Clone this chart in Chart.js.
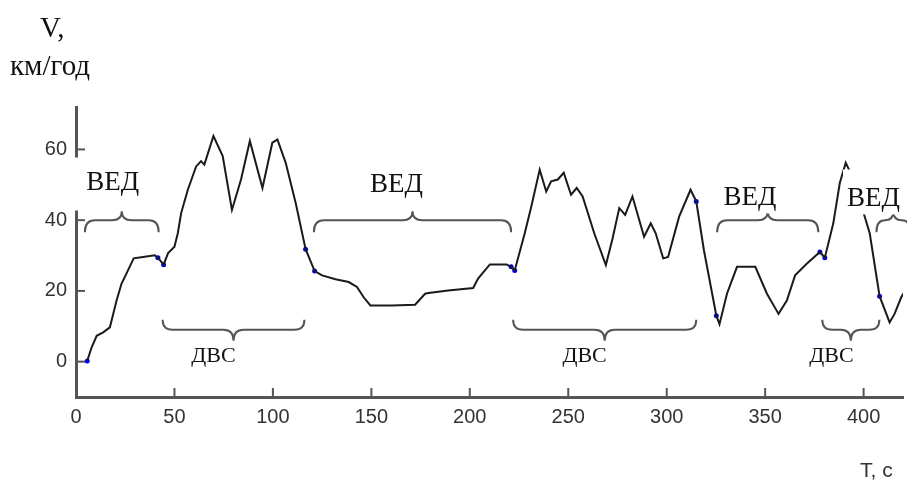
<!DOCTYPE html>
<html>
<head>
<meta charset="utf-8">
<script src="https://cdn.jsdelivr.net/npm/chart.js@4.4.1/dist/chart.umd.min.js"></script>
<style>
  body { margin: 0; background: #fff; }
  #wrap { position: relative; width: 907px; height: 480px; }
  #myChart { position: absolute; left: 0; top: 0; }
  .ttl { position: absolute; white-space: nowrap; color: #111; }
  .serif { font-family: "Liberation Serif", "Times New Roman", serif; font-size: 29px; line-height: 29px; }
  .sans { font-family: "Liberation Sans", Arial, sans-serif; font-size: 21px; line-height: 21px; color: #333; }
</style>
</head>
<body>
<div id="wrap">
  <canvas id="myChart" width="907" height="480"></canvas>
  <div class="ttl serif" style="left:40px; top:13px;">V,</div>
  <div class="ttl serif" style="left:10px; top:51px;">км/год</div>
  <div class="ttl sans" style="left:860px; top:459px;">T, с</div>
</div>
<script>
// time, s
const timeData = [5.7, 7.9, 10.5, 13.8, 17.2, 18.9, 20.6, 23.1, 25.6, 29.3, 34, 40, 41.6, 44.5, 46.7, 50, 51.7, 53.4, 56.8, 61,
  63.5, 65.2, 69.8, 74.5, 79.2, 83.8, 88.3, 94.7, 99.7, 102.3, 106.5, 111.6, 116.6, 121.2, 125, 131.8, 138.5, 142.7, 146.1, 149.5,
  160.4, 172.2, 177.3, 179, 189, 201.7, 204.2, 210.2, 218.6, 221, 222.8, 227.9, 231.2, 235.5, 238.8, 241.3, 244.7, 247.7, 251.4, 254.3,
  257.3, 263.2, 269.1, 272.5, 275.9, 278.9, 282.6, 288.5, 291.9, 294.4, 298.2, 300.7, 306.3, 312.1, 315, 318.9, 325.2, 326.8, 330.6, 335.7,
  345, 350.9, 356.8, 361, 365.2, 371.1, 377.8, 380.3, 384.6, 387.9, 390.9, 393, 399.8, 403.1, 408.1, 413.2, 415.7, 419.1, 421];
// speed, km/h
const speedData = [0.2, 4, 7.3, 8.3, 9.7, 13.5, 17.3, 22, 24.9, 29.2, 29.6, 30.1, 29.4, 27.4, 30.6, 32.5, 36.3, 42, 48.6, 55.2,
  56.7, 55.7, 63.8, 58.1, 42.9, 51.5, 62.4, 49.1, 61.9, 62.8, 56.2, 44.8, 31.8, 25.6, 24.4, 23.3, 22.5, 21.1, 18.2, 15.9,
  15.9, 16.1, 19.2, 19.4, 20.1, 20.8, 23.5, 27.5, 27.5, 26.8, 25.8, 36.3, 43.8, 54.3, 48.1, 51, 51.5, 53.4, 47.2, 49.1,
  46.7, 36.3, 27.3, 34.8, 43.4, 41.5, 46.7, 35.3, 39.1, 36.3, 29.2, 29.6, 41, 48.6, 45.3, 31.5, 13, 10.6, 19.2, 26.8,
  26.8, 19.2, 13.5, 17.3, 24.4, 27.7, 31, 29.4, 39.1, 50.5, 56.2, 53.8, 42.4, 36.3, 18.5, 11.1, 13.5, 18.2, 20];
// mode switch points (blue)
const switchTime = [5.7, 41.6, 44.5, 116.6, 121.2, 221, 222.8, 315, 325.2, 377.8, 380.3, 408.1];
const switchSpeed = [0.2, 29.4, 27.4, 31.8, 25.6, 26.8, 25.8, 45.3, 13, 31, 29.4, 18.5];

const xTicks = [0, 50, 100, 150, 200, 250, 300, 350, 400];
const yTicks = [0, 20, 40, 60];

// braces over mode intervals: [from, to, level]
const vedBraces = [[4.5, 42, 40], [120.8, 221, 40], [325.6, 377, 40], [406.5, 423.7, 40]];
const dvsBraces = [[44, 116, 9], [222, 315, 9], [379, 408, 9]];

const notes = [
  { text: 'ВЕД', x: 18.7, y: 50.5, size: 27, padL: 24, padR: 24, padT: 12, padB: 14 },
  { text: 'ВЕД', x: 162.8, y: 50, size: 27 },
  { text: 'ВЕД', x: 342.3, y: 46.3, size: 27 },
  { text: 'ВЕД', x: 405, y: 46, size: 27, padL: 4, padT: 16 },
  { text: 'ДВС', x: 69.8, y: 1.6, size: 22 },
  { text: 'ДВС', x: 258.3, y: 1.6, size: 22 },
  { text: 'ДВС', x: 383.7, y: 1.6, size: 22 }
];

const curve = timeData.map((t, i) => ({ x: t, y: speedData[i] }));
const dots = switchTime.map((t, i) => ({ x: t, y: switchSpeed[i] }));

function brace(ctx, x1, x2, y0, dir, hEnd, hTip) {
  const xm = (x1 + x2) / 2;
  const r = Math.min(10, (x2 - x1) / 4);
  ctx.beginPath();
  ctx.moveTo(x1, y0 - dir * hEnd);
  ctx.quadraticCurveTo(x1, y0, x1 + r, y0);
  ctx.lineTo(xm - r, y0);
  ctx.quadraticCurveTo(xm, y0, xm, y0 + dir * hTip);
  ctx.quadraticCurveTo(xm, y0, xm + r, y0);
  ctx.lineTo(x2 - r, y0);
  ctx.quadraticCurveTo(x2, y0, x2, y0 - dir * hEnd);
  ctx.stroke();
}

const decor = {
  id: 'decor',
  beforeDatasetsDraw(chart) {
    // inward tick marks
    const { ctx, scales: { x, y } } = chart;
    ctx.save();
    ctx.strokeStyle = '#555';
    ctx.lineWidth = 2;
    xTicks.forEach(v => {
      const px = x.getPixelForValue(v);
      ctx.beginPath(); ctx.moveTo(px, y.bottom); ctx.lineTo(px, y.bottom - 9); ctx.stroke();
    });
    yTicks.forEach(v => {
      const py = y.getPixelForValue(v);
      ctx.beginPath(); ctx.moveTo(x.left, py); ctx.lineTo(x.left + 9, py); ctx.stroke();
    });
    ctx.restore();
  },
  afterDatasetsDraw(chart) {
    const { ctx, scales: { x, y } } = chart;
    ctx.save();
    ctx.strokeStyle = '#555';
    ctx.lineWidth = 2;
    vedBraces.forEach(b => brace(ctx, x.getPixelForValue(b[0]), x.getPixelForValue(b[1]), y.getPixelForValue(b[2]), -1, 12, 9));
    dvsBraces.forEach(b => brace(ctx, x.getPixelForValue(b[0]), x.getPixelForValue(b[1]), y.getPixelForValue(b[2]), 1, 10, 11));
    ctx.textAlign = 'center';
    ctx.textBaseline = 'middle';
    notes.forEach(n => {
      ctx.font = n.size + 'px "Liberation Serif", "Times New Roman", serif';
      const px = x.getPixelForValue(n.x), py = y.getPixelForValue(n.y);
      const w = ctx.measureText(n.text).width;
      ctx.fillStyle = '#fff';
      const l = px - w / 2 - (n.padL ?? 6), r = px + w / 2 + (n.padR ?? 6);
      const t = py - n.size / 2 - (n.padT ?? 2), b = py + n.size / 2 + (n.padB ?? 2);
      ctx.fillRect(l, t, r - l, b - t);
      ctx.fillStyle = '#111';
      ctx.fillText(n.text, px, py);
    });
    ctx.restore();
  }
};

const tickFont = { family: '"Liberation Sans", Arial, sans-serif', size: 20 };

new Chart(document.getElementById('myChart').getContext('2d'), {
  type: 'scatter',
  data: {
    datasets: [
      {
        data: curve,
        showLine: true,
        borderColor: '#1a1a1a',
        borderWidth: 2,
        pointRadius: 0,
        tension: 0
      },
      {
        data: dots,
        showLine: false,
        pointRadius: 2.5,
        pointBackgroundColor: '#0000ff',
        pointBorderWidth: 0
      }
    ]
  },
  options: {
    responsive: false,
    animation: false,
    devicePixelRatio: 1,
    layout: { padding: { top: 107, right: 0, left: 0, bottom: 0 } },
    plugins: { legend: { display: false }, tooltip: { enabled: false } },
    scales: {
      x: {
        type: 'linear',
        min: 0,
        max: 420,
        grid: { display: false, drawTicks: false },
        border: { color: '#555', width: 3 },
        ticks: { color: '#333', font: tickFont, padding: 8, maxRotation: 0 },
        afterBuildTicks: s => { s.ticks = xTicks.map(v => ({ value: v })); },
        afterFit: s => { s.height = 83; }
      },
      y: {
        min: -10,
        max: 72,
        grid: { display: false, drawTicks: false },
        border: { color: '#555', width: 3 },
        ticks: { color: '#333', font: tickFont, padding: 9 },
        afterBuildTicks: s => { s.ticks = yTicks.map(v => ({ value: v })); },
        afterFit: s => { s.width = 76; }
      }
    }
  },
  plugins: [decor]
});
</script>
</body>
</html>
